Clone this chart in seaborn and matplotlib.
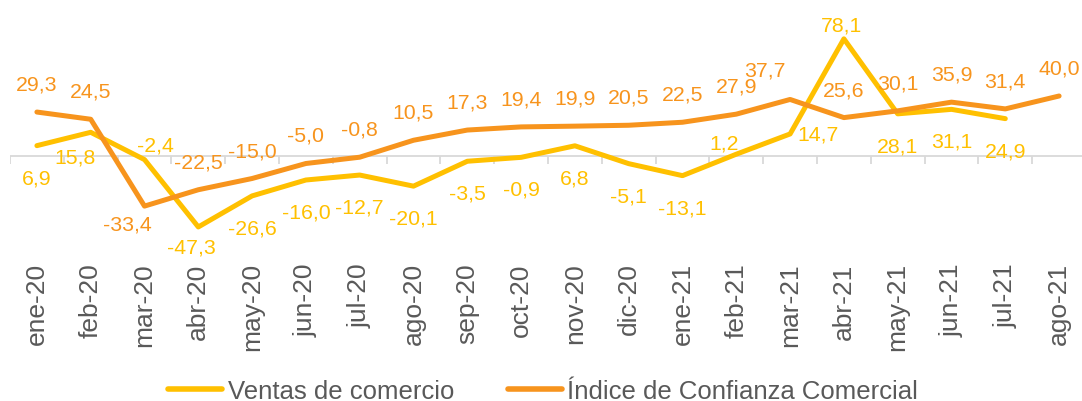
import numpy as np
import pandas as pd
import matplotlib
matplotlib.use("Agg")
import matplotlib.pyplot as plt
import seaborn as sns

# ---------------- data ----------------
months = ["ene-20", "feb-20", "mar-20", "abr-20", "may-20", "jun-20", "jul-20",
          "ago-20", "sep-20", "oct-20", "nov-20", "dic-20", "ene-21", "feb-21",
          "mar-21", "abr-21", "may-21", "jun-21", "jul-21", "ago-21"]
ventas = [6.9, 15.8, -2.4, -47.3, -26.6, -16.0, -12.7, -20.1, -3.5, -0.9,
          6.8, -5.1, -13.1, 1.2, 14.7, 78.1, 28.1, 31.1, 24.9]
icc = [29.3, 24.5, -33.4, -22.5, -15.0, -5.0, -0.8, 10.5, 17.3, 19.4,
       19.9, 20.5, 22.5, 27.9, 37.7, 25.6, 30.1, 35.9, 31.4, 40.0]
series_names = ["Ventas de comercio", "Índice de Confianza Comercial"]

# ---------------- style ----------------
colors = {series_names[0]: "#FFC000", series_names[1]: "#F7941D"}
sns.set_style("white")
plt.rcParams["font.family"] = ["Liberation Sans", "DejaVu Sans"]
text_grey = "#595959"

rows = []
for i, v in enumerate(ventas):
    rows.append({"pos": i, "mes": months[i], "valor": v, "serie": series_names[0]})
for i, v in enumerate(icc):
    rows.append({"pos": i, "mes": months[i], "valor": v, "serie": series_names[1]})
df = pd.DataFrame(rows)

fig = plt.figure(figsize=(10.82, 4.02), dpi=100)
W, H = 1082, 402
left_px, top_px, bottom_px = 10, 0, 255
width_px = 20 * 53.8
ax = fig.add_axes([left_px / W, (H - bottom_px) / H, width_px / W, (bottom_px - top_px) / H])

sns.lineplot(data=df, x="pos", y="valor", hue="serie", hue_order=series_names,
             palette=colors, linewidth=3.6, ax=ax, legend=True, sort=True)
for ln in ax.get_lines():
    ln.set_solid_capstyle("round")
    ln.set_solid_joinstyle("round")

handles, labels = ax.get_legend_handles_labels()
ax.get_legend().remove()

scale = 1.5  # px per unit
zero_px = 157
ax.set_ylim(-(bottom_px - zero_px) / scale, (zero_px - top_px) / scale)
ax.set_xlim(-0.5, len(months) - 0.5)

# zero line with boundary ticks
ax.axhline(0, color="#D9D9D9", linewidth=1.3, zorder=0)
ax.vlines(np.arange(-0.5, len(months), 1.0), -8 / scale, 0, color="#D9D9D9",
          linewidth=1.3, zorder=0)

# data labels (offsets in px: dx, dy ; positive dy = up)
default_off = {series_names[0]: (0, -32), series_names[1]: (0, 28)}
overrides = {
    (series_names[0], 1): (-16, -25),
    (series_names[0], 2): (11, 15),
    (series_names[0], 3): (-7, -20),
    (series_names[0], 13): (-12, 11),
    (series_names[0], 14): (7, 0, "left"),
    (series_names[0], 15): (-2, 14),
    (series_names[1], 2): (-17, -18),
    (series_names[1], 14): (-25, 29),
}
for name, vals in zip(series_names, [ventas, icc]):
    for i, v in enumerate(vals):
        o = overrides.get((name, i), default_off[name])
        ha = o[2] if len(o) > 2 else "center"
        ax.annotate(f"{v:.1f}".replace(".", ","), (i, v),
                    xytext=(o[0] * 0.72, o[1] * 0.72), textcoords="offset points",
                    ha=ha, va="center", fontsize=15.3, color=colors[name])

ax.set_xticks(range(len(months)))
ax.set_xticklabels(months, rotation=90, fontsize=19, color=text_grey)
ax.tick_params(axis="x", length=0, pad=6)
ax.set_yticks([])
ax.set_xlabel("")
ax.set_ylabel("")
for s in ax.spines.values():
    s.set_visible(False)

for h in handles:
    h.set_linewidth(4)
    h.set_solid_capstyle("round")
fig.legend(handles, labels, loc="center", bbox_to_anchor=(0.502, 0.025),
           ncol=2, frameon=False, fontsize=18.5, handlelength=2.1,
           handletextpad=0.2, columnspacing=2.1, labelcolor=text_grey,
           borderpad=0, borderaxespad=0)

fig.savefig("out.png", dpi=100)
